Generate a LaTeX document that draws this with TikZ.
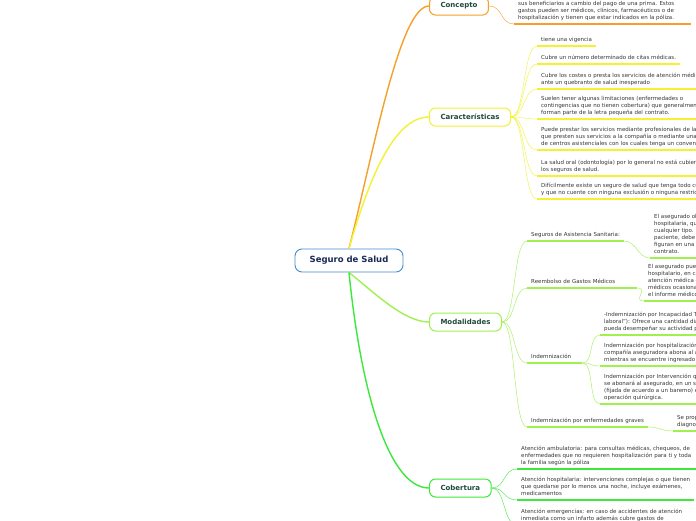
\documentclass[tikz,border=0pt]{standalone}
\usepackage{fontspec}
\setmainfont{DejaVu Sans}
\usepackage{xcolor}
\definecolor{ramaorange}{RGB}{245,160,40}
\definecolor{ramayellow}{RGB}{242,242,50}
\definecolor{ramalime}{RGB}{160,240,80}
\definecolor{ramagreen}{RGB}{60,232,60}
\definecolor{centroblue}{RGB}{70,140,205}
\definecolor{centronavy}{RGB}{25,40,85}
\definecolor{temagreen}{RGB}{30,75,60}
\definecolor{hojagray}{RGB}{55,55,55}

\begin{document}
\begin{tikzpicture}[x=1pt, y=-1pt,
    centro/.style={draw=centroblue, fill=white, rounded corners=7pt, line width=0.9pt, minimum width=108pt, minimum height=23pt, font=\bfseries\fontsize{8.5}{10}\selectfont, text=centronavy},
    tema/.style={draw, fill=white, rounded corners=6pt, line width=1pt, minimum height=18pt, inner xsep=11pt, anchor=west, font=\bfseries\fontsize{7}{8}\selectfont, text=temagreen},
    hoja/.style={anchor=south west, align=left, inner xsep=4pt, inner ysep=2.2pt, font=\fontsize{5.5}{7}\selectfont, text=hojagray, execute at end node=\strut},
    rama/.style={line width=1.4pt},
    raya/.style={line width=1.3pt}
]
    \useasboundingbox (0,0) rectangle (696,520);
    \clip (0,0) rectangle (696,520);
    \fill[white] (0,0) rectangle (696,520);

    % Nodes
    \node[centro] (seguro) at (349,260.5) {Seguro de Salud};
    \node[tema, draw=ramaorange] (concepto) at (429,6) {Concepto};
    \node[tema, draw=ramayellow] (carac) at (429,117) {Características};
    \node[tema, draw=ramalime] (modal) at (429,322) {Modalidades};
    \node[tema, draw=ramagreen] (cober) at (429,488) {Cobertura};

    % Concepto
    \node[hoja] (defi) at (514,24) {se compromete a asumir gastos en salud del asegurado o de\\ sus beneficiarios a cambio del pago de una prima. Estos\\ gastos pueden ser médicos, clínicos, farmacéuticos o de\\ hospitalización y tienen que estar indicados en la póliza.};

    % Caracteristicas
    \node[hoja] (c1) at (537,46) {tiene una vigencia};
    \node[hoja] (c2) at (537,64) {Cubre un número determinado de citas médicas.};
    \node[hoja] (c3) at (537,89) {Cubre los costes o presta los servicios de atención médica\\ ante un quebranto de salud inesperado};
    \node[hoja] (c4) at (537,119) {Suelen tener algunas limitaciones (enfermedades o\\ contingencias que no tienen cobertura) que generalmente\\ forman parte de la letra pequeña del contrato.};
    \node[hoja] (c5) at (537,150) {Puede prestar los servicios mediante profesionales de la salud\\ que presten sus servicios a la compañía o mediante una red\\ de centros asistenciales con los cuales tenga un convenio.};
    \node[hoja] (c6) at (537,176) {La salud oral (odontología) por lo general no está cubierta por\\ los seguros de salud.};
    \node[hoja] (c7) at (537,199) {Difícilmente existe un seguro de salud que tenga todo cubierto\\ y que no cuente con ninguna exclusión o ninguna restricción.};

    % Modalidades
    \node[hoja] (m1) at (527,241) {Seguros de Asistencia Sanitaria:};
    \node[hoja, text width=102pt] (m2) at (527,288) {Reembolso de Gastos Médicos};
    \node[hoja, text width=47pt] (m3) at (527,363) {Indemnización};
    \node[hoja] (m4) at (527,427) {Indemnización por enfermedades graves};

    \node[hoja] (m1a) at (650,258) {El asegurado obtiene asistencia médica y\\ hospitalaria, que cubre enfermedades de\\ cualquier tipo. En este caso, el\\ paciente, debe acudir a los médicos que\\ figuran en una lista establecida en el\\ contrato.};
    \node[hoja] (m2a) at (644,301) {El asegurado puede elegir el centro\\ hospitalario, en caso de requerir\\ atención médica - se le reembolsan los gastos\\ médicos ocasionados, previa presentación de\\ el informe médico.};
    \node[hoja] (m3a) at (600,335) {-Indemnización por Incapacidad Temporal ("baja\\ laboral"): Ofrece una cantidad diaria mientras no\\ pueda desempeñar su actividad profesional.};
    \node[hoja] (m3b) at (600,366) {Indemnización por hospitalización: la\\ compañía aseguradora abona al asegurado una cantidad\\ mientras se encuentre ingresado en un hospital.};
    \node[hoja] (m3c) at (600,404) {Indemnización por Intervención quirúrgica:\\ se abonará al asegurado, en un solo pago, una cantidad\\ (fijada de acuerdo a un baremo) en función de la\\ operación quirúrgica.};
    \node[hoja] (m4a) at (673,431) {Se proporciona una cantidad al\\ diagnosticarle una enfermedad grave.};

    % Cobertura
    \node[hoja] (b1) at (517,469) {Atención ambulatoria: para consultas médicas, chequeos, de\\ enfermedades que no requieren hospitalización para ti y toda\\ la familia según la póliza};
    \node[hoja] (b2) at (517,500) {Atención hospitalaria: intervenciones complejas o que tienen\\ que quedarse por lo menos una noche, incluye exámenes,\\ medicamentos};
    \node[hoja] (b3) at (517,525) {Atención emergencias: en caso de accidentes de atención\\ inmediata como un infarto además cubre gastos de};

    % Ramas
    \draw[rama, ramaorange] (seguro.north) .. controls +(25,-99) and +(-29,0) .. (concepto.west);
    \draw[rama, ramayellow] (seguro.north) .. controls +(20,-70) and +(-35,0) .. (carac.west);
    \draw[rama, ramalime] (seguro.south) .. controls +(25,20) and +(-25,0) .. (modal.west);
    \draw[rama, ramagreen] (seguro.south) .. controls +(12,120) and +(-40,0) .. (cober.west);

    \draw[ramaorange] (concepto.east) .. controls +(14,0) and +(-14,0) .. (defi.south west);
    \draw[raya, ramaorange] (defi.south west) -- (defi.south east);

    \foreach \i in {1,...,7} {
        \draw[ramayellow] (carac.east) .. controls +(14,0) and +(-14,0) .. (c\i.south west);
        \draw[raya, ramayellow] (c\i.south west) -- (c\i.south east);
    }

    \foreach \i in {1,...,4} {
        \draw[ramalime] (modal.east) .. controls +(14,0) and +(-14,0) .. (m\i.south west);
        \draw[raya, ramalime] (m\i.south west) -- (m\i.south east);
    }
    \draw[ramalime] (m1.south east) .. controls +(12,0) and +(-12,0) .. (m1a.south west);
    \draw[ramalime] (m2.south east) .. controls +(12,0) and +(-12,0) .. (m2a.south west);
    \draw[ramalime] (m4.south east) .. controls +(12,0) and +(-12,0) .. (m4a.south west);
    \foreach \j in {a,b,c} {
        \draw[ramalime] (m3.south east) .. controls +(12,0) and +(-12,0) .. (m3\j.south west);
    }
    \foreach \j in {m1a,m2a,m3a,m3b,m3c,m4a}
        \draw[raya, ramalime] (\j.south west) -- (\j.south east);

    \foreach \i in {1,...,3} {
        \draw[ramagreen] (cober.east) .. controls +(14,0) and +(-14,0) .. (b\i.south west);
        \draw[raya, ramagreen] (b\i.south west) -- (b\i.south east);
    }
\end{tikzpicture}
\end{document}
